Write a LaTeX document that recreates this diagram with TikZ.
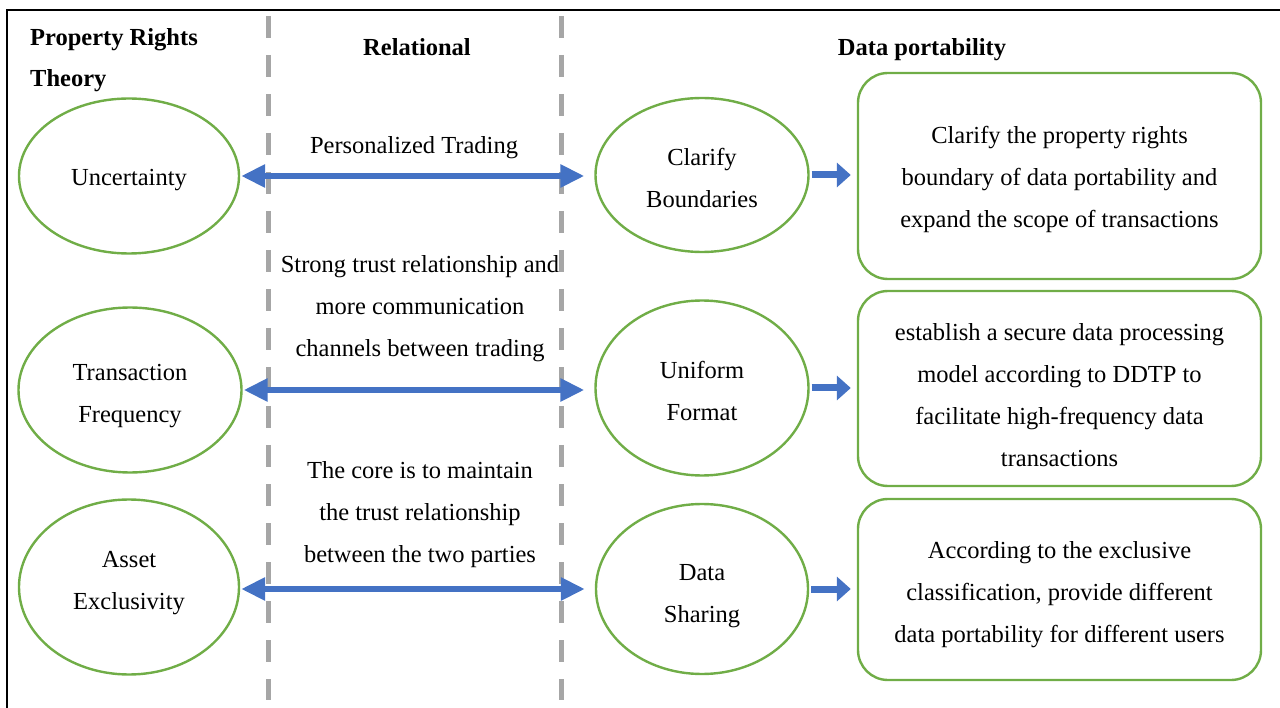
\documentclass[tikz,border=0pt]{standalone}
\usepackage{fontspec}
\setmainfont{Liberation Serif}
\usetikzlibrary{shapes.geometric,arrows.meta}
\definecolor{leafgreen}{HTML}{70AD47}
\definecolor{arrowblue}{HTML}{4472C4}
\definecolor{dashgray}{HTML}{A6A6A6}

\begin{document}
\begin{tikzpicture}[x=1pt,y=-1pt,
    every node/.style={font=\fontsize{24.5}{42}\selectfont, align=center, inner sep=0pt},
    factor/.style={ellipse, draw=leafgreen, line width=2.4pt},
    effect/.style={rounded corners=30pt, draw=leafgreen, line width=2.4pt, minimum width=403pt},
    head/.style={font=\fontsize{24.5}{41}\selectfont\bfseries},
    sink/.style={execute at begin node={\rule{0pt}{#1}}},
    rise/.style={execute at end node={\rule[-#1]{0pt}{#1}}},
    bothway/.style={arrowblue, line width=6pt, {Triangle[length=24pt,width=22pt]}-{Triangle[length=24pt,width=22pt]}},
    oneway/.style={arrowblue, line width=7pt, -{Triangle[length=14pt,width=24pt]}},
    divider/.style={dashgray, line width=5pt, dash pattern=on 22pt off 17pt}]
  \useasboundingbox (0,0) rectangle (1280,708);
  \draw[line width=2pt] (7,720) -- (7,10) -- (1290,10);

  % dashed column dividers
  \draw[divider] (268,16) -- (268,700);
  \draw[divider] (561,16) -- (561,700);

  % column headings
  \node[head, align=left, anchor=west] (prt) at (30,60.5) {Property Rights\\Theory};
  \node[head, anchor=base] (rel) at (417,56) {Relational};
  \node[head, anchor=base] (dp) at (922,56) {Data portability};

  \node[factor, sink=25pt, minimum width=220pt, minimum height=155pt] (unc) at (129,176) {Uncertainty};
  \node[factor, sink=71pt, minimum width=223pt, minimum height=165pt] (freq) at (130,390) {Transaction\\Frequency};
  \node[factor, rise=13pt, minimum width=220pt, minimum height=175pt] (excl) at (129,587) {Asset\\Exclusivity};

  \node[factor, sink=65pt, minimum width=213pt, minimum height=154pt] (bound) at (702,175) {Clarify\\Boundaries};
  \node[factor, sink=66pt, minimum width=213pt, minimum height=175pt] (format) at (702,388) {Uniform\\Format};
  \node[factor, sink=73pt, minimum width=212pt, minimum height=170pt] (share) at (702,589) {Data\\Sharing};

  \node[effect, sink=109pt, minimum height=206pt] (scope) at (1059.5,176) {Clarify the property rights\\boundary of data portability and\\expand the scope of transactions};
  \node[effect, sink=157pt, minimum height=195pt] (model) at (1059.5,388.5) {establish a secure data processing\\model according to DDTP to\\facilitate high-frequency data\\transactions};
  \node[effect, sink=111pt, minimum height=181pt] (users) at (1059.5,589.5) {According to the exclusive\\classification, provide different\\data portability for different users};

  \node (trade) at (414,148) {Personalized Trading};
  \node (trust) at (420,309) {Strong trust relationship and\\more communication\\channels between trading};
  \node (core) at (420,515) {The core is to maintain\\the trust relationship\\between the two parties};

  \draw[bothway, shorten <=1pt, shorten >=10pt] (unc.east) -- (unc.east -| bound.west);
  \draw[bothway, shorten <=1pt, shorten >=10pt] (freq.east) -- (freq.east -| format.west);
  \draw[bothway, shorten <=1pt, shorten >=10pt] (excl.east |- share.east) -- (share.west);

  \draw[oneway, shorten <=2pt, shorten >=6pt] (bound.east) -- (bound.east -| scope.west);
  \draw[oneway, shorten <=2pt, shorten >=6pt] (format.east) -- (format.east -| model.west);
  \draw[oneway, shorten <=2pt, shorten >=6pt] (share.east) -- (share.east -| users.west);
\end{tikzpicture}
\end{document}
